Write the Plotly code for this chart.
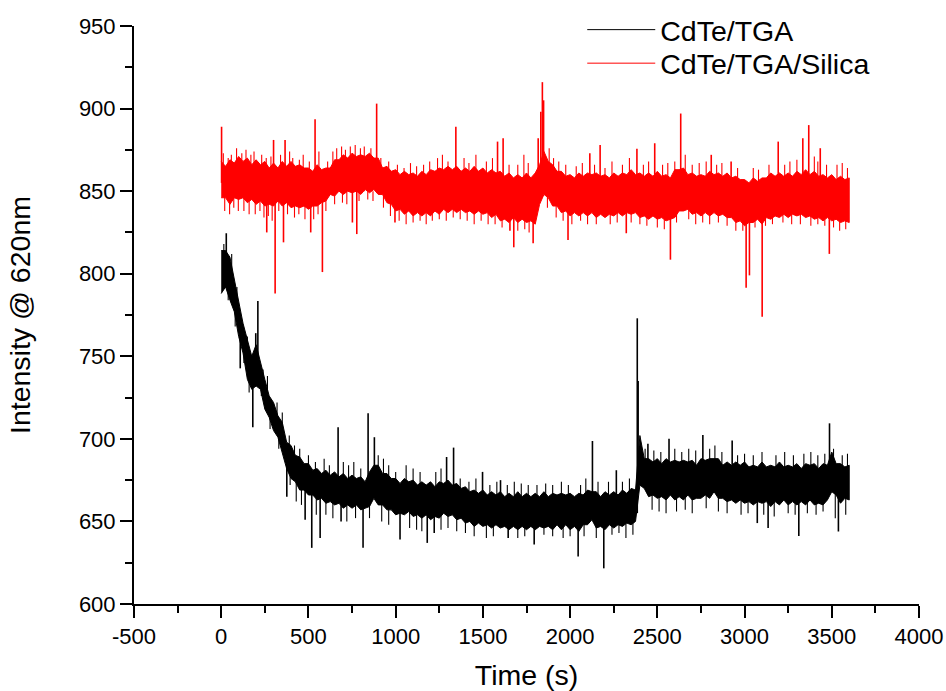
import plotly.graph_objects as go

# sample times (s)
time_s = [
    0, 25, 50, 75, 100, 125, 150, 175,
    200, 225, 250, 275, 300, 325, 350, 375,
    400, 425, 450, 475, 500, 525, 550, 575,
    600, 625, 650, 675, 700, 725, 750, 775,
    800, 825, 850, 875, 900, 925, 950, 975,
    1000, 1025, 1050, 1075, 1100, 1125, 1150, 1175,
    1200, 1225, 1250, 1275, 1300, 1325, 1350, 1375,
    1400, 1425, 1450, 1475, 1500, 1525, 1550, 1575,
    1600, 1625, 1650, 1675, 1700, 1725, 1750, 1775,
    1800, 1825, 1850, 1875, 1900, 1925, 1950, 1975,
    2000, 2025, 2050, 2075, 2100, 2125, 2150, 2175,
    2200, 2225, 2250, 2275, 2300, 2325, 2350, 2375,
    2400, 2425, 2450, 2475, 2500, 2525, 2550, 2575,
    2600, 2625, 2650, 2675, 2700, 2725, 2750, 2775,
    2800, 2825, 2850, 2875, 2900, 2925, 2950, 2975,
    3000, 3025, 3050, 3075, 3100, 3125, 3150, 3175,
    3200, 3225, 3250, 3275, 3300, 3325, 3350, 3375,
    3400, 3425, 3450, 3475, 3500, 3525, 3550, 3575,
    3600,
]

# CdTe/TGA/Silica: upper / lower edge of the dense noise band
silica_hi = [
    868, 865, 869, 867, 871, 868, 870, 866,
    869, 866, 868, 864, 867, 864, 868, 865,
    868, 865, 866, 864, 864, 862, 866, 863,
    864, 864, 869, 869, 872, 870, 873, 871,
    872, 871, 873, 870, 870, 864, 865, 862,
    863, 860, 862, 860, 861, 859, 862, 860,
    863, 862, 864, 863, 865, 863, 865, 862,
    864, 862, 865, 862, 864, 861, 863, 861,
    862, 859, 861, 858, 860, 858, 861, 858,
    861, 866, 874, 868, 866, 862, 862, 859,
    860, 858, 861, 859, 861, 860, 861, 859,
    860, 858, 861, 859, 861, 860, 863, 860,
    861, 859, 861, 859, 862, 859, 860, 858,
    863, 863, 864, 860, 861, 859, 860, 859,
    862, 860, 861, 859, 861, 858, 859, 857,
    857, 855, 858, 856, 858, 858, 861, 859,
    861, 859, 861, 859, 862, 860, 863, 860,
    862, 859, 860, 858, 860, 857, 859, 857,
    858,
]
silica_lo = [
    846, 846, 842, 846, 845, 846, 843, 845,
    842, 844, 841, 842, 841, 844, 841, 843,
    840, 841, 840, 841, 839, 841, 841, 843,
    844, 848, 847, 850, 848, 850, 849, 850,
    848, 851, 849, 851, 848, 848, 843, 842,
    838, 839, 836, 838, 835, 837, 835, 837,
    835, 838, 836, 839, 837, 839, 837, 839,
    837, 838, 836, 838, 836, 837, 834, 836,
    832, 833, 831, 834, 831, 833, 831, 832,
    830, 842, 848, 846, 841, 841, 837, 838,
    835, 837, 835, 837, 835, 837, 834, 836,
    834, 836, 835, 837, 835, 837, 836, 837,
    834, 835, 833, 835, 833, 834, 832, 833,
    834, 838, 838, 839, 836, 837, 835, 837,
    835, 837, 835, 836, 834, 834, 831, 832,
    829, 831, 831, 833, 830, 834, 833, 835,
    834, 836, 834, 836, 835, 836, 834, 835,
    833, 834, 832, 834, 832, 833, 831, 832,
    831,
]

# CdTe/TGA: upper / lower edge of the dense noise band
tga_hi = [
    814, 814, 810, 797, 785, 770, 760, 750,
    757, 746, 736, 726, 722, 714, 710, 698,
    696, 690, 689, 685, 685, 681, 682, 679,
    681, 678, 680, 677, 679, 676, 678, 676,
    677, 674, 680, 684, 684, 679, 679, 676,
    676, 673, 676, 674, 675, 672, 674, 672,
    674, 671, 674, 673, 675, 672, 673, 670,
    671, 668, 669, 667, 669, 666, 668, 666,
    668, 665, 667, 665, 668, 665, 667, 665,
    667, 665, 668, 665, 667, 666, 667, 666,
    667, 665, 667, 666, 669, 668, 668, 665,
    668, 666, 668, 666, 669, 667, 670, 669,
    702, 688, 688, 686, 688, 685, 688, 686,
    687, 686, 687, 686, 687, 684, 688, 687,
    688, 688, 688, 684, 686, 684, 686, 684,
    686, 683, 684, 683, 686, 683, 684, 683,
    686, 683, 684, 683, 685, 682, 685, 684,
    685, 682, 685, 684, 692, 685, 685, 683,
    684,
]
tga_lo = [
    788, 792, 784, 777, 762, 752, 736, 730,
    732, 730, 718, 713, 705, 701, 692, 682,
    676, 674, 669, 669, 666, 666, 663, 664,
    661, 662, 660, 661, 658, 660, 658, 660,
    657, 658, 659, 664, 660, 660, 657, 657,
    654, 655, 654, 656, 653, 654, 652, 654,
    651, 653, 652, 655, 653, 654, 651, 652,
    649, 650, 647, 649, 647, 648, 646, 648,
    646, 647, 645, 647, 645, 647, 645, 647,
    645, 647, 646, 647, 645, 648, 645, 648,
    645, 647, 644, 648, 648, 651, 646, 647,
    645, 648, 646, 648, 647, 649, 648, 650,
    672, 670, 665, 666, 664, 665, 663, 666,
    663, 665, 663, 666, 663, 664, 664, 666,
    664, 668, 664, 664, 662, 663, 661, 663,
    661, 662, 660, 662, 661, 662, 659, 662,
    660, 663, 660, 662, 660, 662, 660, 663,
    660, 661, 660, 663, 668, 666, 661, 664,
    663,
]

# isolated spikes: time, band level, extreme value
silica_spike_t = [2, 300, 366, 538, 891, 1345, 1584, 1616, 1817, 1832, 1841, 1848, 2113, 2172,
                  2383, 2485, 2634, 2809, 2923, 3193, 3334, 3368, 3434,
                  261, 309, 357, 513, 580, 752, 777, 996, 1655, 1677, 1788, 1988,
                  2322, 2575, 3009, 3028, 3101, 3486]
silica_spike_base = [855, 855, 855, 852, 860, 852, 850, 848, 845, 860, 860, 860, 848, 848,
                     848, 848, 850, 848, 848, 848, 848, 850, 848,
                     855, 855, 855, 850, 855, 860, 860, 850, 846, 846, 845, 848,
                     848, 846, 844, 844, 844, 846]
silica_spike_peak = [889, 881, 881, 893.5, 903, 889, 880, 882, 882, 898, 916, 905, 873, 878,
                     875.6, 879, 897, 872, 868, 880, 882, 890, 876,
                     825, 788, 819, 825, 801, 831, 824, 831, 826, 816, 818.5, 820.4,
                     824.5, 808.5, 791.5, 799, 774, 812]

tga_spike_t = [29, 198, 210, 670, 842, 878, 1292, 1332, 1498, 1601, 2128, 2265,
               2385, 2390, 2446, 2567, 2761, 2929, 3487,
               109, 181, 376, 481, 519, 567, 687, 813, 1025, 1181, 1221, 1645,
               1794, 2046, 2193, 3073, 3135, 3311, 3538]
tga_spike_base = [800, 745, 740, 670, 668, 670, 662, 662, 656, 656, 658, 656,
                  655, 680, 676, 676, 676, 674, 674,
                  765, 740, 690, 676, 674, 672, 668, 666, 662, 662, 660, 656,
                  656, 656, 656, 672, 672, 672, 674]
tga_spike_peak = [824.5, 764, 783.5, 707, 715.5, 701, 689, 694.7, 680, 675, 698.7, 681,
                  773, 735, 697, 700, 702.4, 699, 709.4,
                  742.7, 707, 665, 651, 634, 640, 650, 634, 639, 637, 643, 640,
                  636, 628.7, 621.6, 649, 646, 641.2, 643.9]

# small noise excursions beyond the dense band (time, tip value)
silica_hair_base = 850
silica_hair_t = [
    12, 40, 58, 88, 118, 142, 170, 188, 232, 258, 285, 340, 392, 410, 448, 470, 505, 560,
    610, 640, 662, 690, 712, 740, 768, 798, 820, 858, 915, 960, 1010, 1048, 1085, 1120,
    1160, 1195, 1240, 1268, 1300, 1392, 1420, 1460, 1520, 1555, 1650, 1700, 1735, 1760,
    1880, 1905, 1935, 1975, 2035, 2070, 2140, 2200, 2240, 2300, 2340, 2420, 2450, 2530,
    2560, 2600, 2660, 2700, 2740, 2780, 2840, 2870, 2960, 3050, 3080, 3140, 3230, 3260,
    3300, 3400, 3420, 3470, 3530, 3560, 3590,
    20, 48, 72, 98, 130, 160, 195, 222, 245, 270, 292, 330, 380, 420, 445, 480, 530, 555,
    600, 650, 695, 720, 790, 840, 870, 930, 970, 1020, 1060, 1100, 1140, 1175, 1210, 1250,
    1290, 1330, 1370, 1410, 1450, 1490, 1530, 1570, 1610, 1700, 1740, 1765, 1870, 1920,
    1960, 2010, 2060, 2100, 2150, 2230, 2270, 2350, 2400, 2440, 2500, 2540, 2610, 2680,
    2720, 2760, 2800, 2850, 2900, 2950, 2990, 3060, 3120, 3160, 3220, 3270, 3320, 3380,
    3420, 3460, 3510, 3545, 3580,
]
silica_hair_tip = [
    873, 870, 872, 876, 873, 875, 872, 874, 872, 870, 871, 872, 874, 870, 869, 872, 868, 874,
    868, 874, 876, 877, 875, 877, 878, 876, 877, 876, 870, 868, 866, 864, 867, 865,
    866, 868, 870, 872, 868, 870, 867, 872, 868, 870, 866, 866, 872, 867,
    876, 870, 868, 866, 865, 867, 866, 864, 868, 866, 870, 866, 868, 866,
    867, 868, 872, 866, 867, 868, 866, 867, 864, 864, 863, 866, 866, 868,
    869, 871, 868, 866, 866, 867, 864,
    838, 836, 840, 838, 838, 836, 836, 838, 834, 835, 832, 838, 836, 834, 836, 833, 833, 836,
    838, 842, 843, 842, 844, 845, 844, 840, 835, 832, 830, 831, 832, 830, 832, 833,
    832, 834, 833, 832, 830, 832, 830, 830, 828, 826, 827, 825, 840, 834,
    832, 830, 832, 830, 830, 830, 831, 831, 830, 829, 828, 827, 831, 833,
    830, 831, 830, 831, 829, 826, 826, 828, 829, 830, 831, 830, 830, 829,
    830, 829, 828, 826, 827,
]

tga_hair_t = [
    15, 60, 90, 150, 240, 265, 320, 350, 390, 420, 450, 500, 540, 590, 620, 700, 730, 760,
    800, 900, 930, 960, 1000, 1060, 1100, 1140, 1230, 1260, 1370, 1420, 1460, 1540, 1580,
    1640, 1680, 1720, 1760, 1810, 1860, 1900, 1950, 1990, 2060, 2090, 2160, 2220, 2300,
    2340, 2430, 2480, 2520, 2600, 2640, 2680, 2720, 2800, 2830, 2870, 2960, 3000, 3050,
    3100, 3180, 3230, 3280, 3340, 3380, 3420, 3460, 3510, 3560, 3590,
    40, 80, 130, 160, 230, 280, 330, 395, 430, 460, 545, 600, 640, 720, 770, 850, 920, 960,
    1080, 1120, 1150, 1260, 1300, 1350, 1400, 1450, 1520, 1560, 1700, 1740, 1850, 1900,
    1960, 2000, 2080, 2150, 2240, 2280, 2320, 2360, 2470, 2510, 2550, 2610, 2660, 2700,
    2780, 2850, 2900, 2980, 3020, 3110, 3170, 3250, 3290, 3360, 3410, 3450, 3520, 3580,
]
tga_hair_base = [
    800, 790, 772, 745, 728, 722, 710, 700, 688, 680, 678, 674, 672, 670, 668, 666, 666, 666,
    664, 668, 666, 664, 662, 662, 662, 660, 660, 660, 658, 656, 656, 654, 654,
    654, 654, 654, 654, 654, 654, 654, 654, 654, 654, 656, 654, 654, 656,
    656, 672, 672, 672, 672, 672, 672, 672, 672, 672, 672, 670, 670, 670,
    670, 670, 670, 670, 670, 670, 670, 670, 672, 670, 670,
    800, 780, 760, 742, 738, 718, 705, 690, 678, 676, 670, 668, 666, 664, 662, 665, 664, 662,
    660, 660, 658, 658, 658, 656, 656, 655, 654, 654, 654, 654, 654, 654,
    654, 654, 654, 654, 654, 656, 656, 656, 672, 672, 672, 672, 672, 672,
    672, 672, 672, 670, 670, 670, 670, 670, 670, 670, 670, 670, 672, 670,
]
tga_hair_tip = [
    818, 812, 792, 762, 742, 738, 722, 716, 702, 696, 694, 690, 686, 688, 684, 686, 684, 686,
    682, 690, 688, 684, 680, 684, 682, 680, 680, 682, 676, 674, 676, 672, 674,
    672, 674, 673, 672, 672, 673, 672, 674, 672, 672, 676, 674, 674, 674,
    676, 694, 693, 692, 694, 692, 694, 693, 694, 696, 692, 690, 691, 690,
    692, 690, 692, 690, 691, 692, 690, 691, 694, 690, 691,
    784, 768, 746, 728, 726, 706, 694, 672, 662, 660, 654, 654, 652, 650, 652, 652, 650, 648,
    646, 645, 644, 645, 646, 644, 643, 641, 640, 641, 640, 641, 642, 641,
    640, 641, 641, 640, 642, 643, 640, 642, 657, 656, 655, 656, 657, 655,
    658, 656, 655, 654, 655, 654, 653, 655, 654, 655, 654, 656, 652, 654,
]

x_tick_vals = [-500, 0, 500, 1000, 1500, 2000, 2500, 3000, 3500, 4000]
x_tick_text = ["-500", "0", "500", "1000", "1500", "2000", "2500", "3000", "3500", "4000"]
y_tick_vals = [600, 650, 700, 750, 800, 850, 900, 950]
y_tick_text = ["600", "650", "700", "750", "800", "850", "900", "950"]

FONT = "Arial, Liberation Sans, sans-serif"
RED = "#ff0000"
BLACK = "#000000"


def band(t, hi, lo, color):
    return go.Scatter(
        x=t + t[::-1], y=hi + lo[::-1], mode="lines", fill="toself",
        fillcolor=color, line=dict(color=color, width=1),
        showlegend=False, hoverinfo="skip",
    )


def spikes(ts, base, peak, color, width):
    xs, ys = [], []
    for t, b, p in zip(ts, base, peak):
        xs += [t, t, None]
        ys += [b, p, None]
    return go.Scatter(x=xs, y=ys, mode="lines", line=dict(color=color, width=width),
                      showlegend=False, hoverinfo="skip")


fig = go.Figure()
fig.add_trace(band(time_s, silica_hi, silica_lo, RED))
fig.add_trace(spikes(silica_hair_t, [silica_hair_base] * len(silica_hair_t),
                     silica_hair_tip, RED, 1.1))
fig.add_trace(spikes(silica_spike_t, silica_spike_base, silica_spike_peak, RED, 1.6))
fig.add_trace(band(time_s, tga_hi, tga_lo, BLACK))
fig.add_trace(spikes(tga_hair_t, tga_hair_base, tga_hair_tip, BLACK, 1.1))
fig.add_trace(spikes(tga_spike_t, tga_spike_base, tga_spike_peak, BLACK, 1.6))

fig.add_trace(go.Scatter(x=[None], y=[None], mode="lines", name="CdTe/TGA",
                         line=dict(color=BLACK, width=1), legend="legend"))
fig.add_trace(go.Scatter(x=[None], y=[None], mode="lines", name="CdTe/TGA/Silica",
                         line=dict(color=RED, width=1), legend="legend2"))

axis_common = dict(
    showgrid=False, zeroline=False, showline=True, linecolor="black", linewidth=2,
    ticks="outside", ticklen=12, tickwidth=2, tickcolor="black",
    tickfont=dict(family=FONT, size=22, color="black"),
    mirror=False, automargin=False, tickmode="array",
)

legend_common = dict(
    x=0.571, xanchor="left", yanchor="top",
    bgcolor="rgba(0,0,0,0)", borderwidth=0,
    font=dict(family=FONT, size=28.5, color="black"),
    itemwidth=68,
)

fig.update_layout(
    width=946, height=691,
    margin=dict(l=134, r=27, t=26, b=87, autoexpand=False),
    plot_bgcolor="white", paper_bgcolor="white",
    font=dict(family=FONT, color="black"),
    xaxis=dict(
        range=[-500, 4000], tickvals=x_tick_vals, ticktext=x_tick_text,
        minor=dict(ticks="outside", ticklen=7, tickwidth=2, tickcolor="black",
                   dtick=250, tick0=-500, showgrid=False),
        title=dict(text="Time (s)", font=dict(family=FONT, size=28.5), standoff=20),
        **axis_common,
    ),
    yaxis=dict(
        range=[600, 950], tickvals=y_tick_vals, ticktext=y_tick_text,
        minor=dict(ticks="outside", ticklen=7, tickwidth=2, tickcolor="black",
                   dtick=25, tick0=600, showgrid=False),
        title=dict(text="Intensity @ 620nm", font=dict(family=FONT, size=28.5), standoff=40),
        **axis_common,
    ),
    legend=dict(y=1.037, **legend_common),
    legend2=dict(y=0.979, **legend_common),
    showlegend=True,
)

fig.write_html("out.html")
